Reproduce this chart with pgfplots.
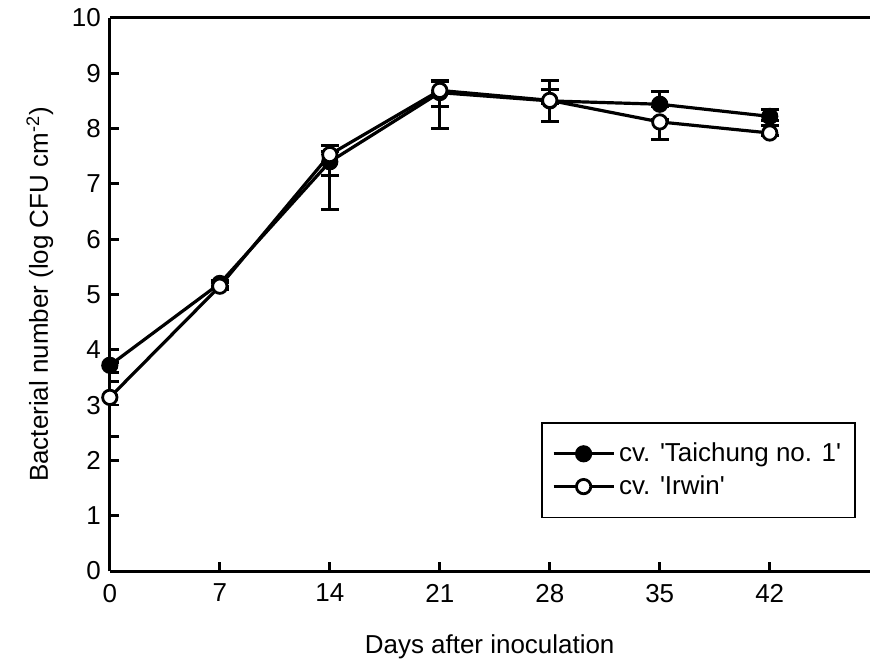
\documentclass[border=0pt]{standalone}
\usepackage{fontspec}
\setmainfont{Liberation Sans}[Ligatures=TeXOff]
\usepackage{pgfplots}
\pgfplotsset{compat=1.18}
\begin{document}
\begin{tikzpicture}
\begin{axis}[
  name=ax,
  scale only axis, width=380.5pt, height=277pt,
  xmin=0, xmax=48.35, ymin=0, ymax=10,
  axis x line*=box, axis y line*=left,
  axis line style={line width=1.5pt},
  xtick={0,7,14,21,28,35,42}, ytick={0,1,...,10},
  xtick pos=bottom, ytick pos=left,
  tick align=inside, major tick length=4.5pt,
  tick style={line width=1.4pt, black},
  font=\fontsize{13}{15.5}\selectfont,
  /pgf/number format/assume math mode=true,
  tick label style={font=\fontsize{13}{15.5}\selectfont},
  yticklabel style={xshift=-1pt},
  xticklabel style={yshift=-3pt},
  xlabel={Days after inoculation},
  ylabel={Bacterial number (log CFU cm\textsuperscript{-2})},
  x label style={at={(axis description cs:0.5,-0.137)}, anchor=center},
  y label style={at={(axis description cs:-0.092,0.5)}, anchor=center},
  legend style={at={(rel axis cs:0.982,0.269)}, anchor=north east,
    draw=black, line width=0.7pt, font=\fontsize{13}{15.5}\selectfont,
    inner xsep=5pt, inner ysep=8pt, row sep=1.5pt},
  legend cell align=left,
  legend image code/.code={\draw[mark repeat=2,mark phase=2,#1] plot coordinates {(0pt,0pt) (15pt,0pt) (30pt,0pt)};},
  error bars/error bar style={line width=1.5pt, black},
  error bars/error mark options={rotate=90, mark size=4.5pt, line width=1.5pt, black},
]
\addplot[black, line width=1.6pt, mark=*, mark size=3.6pt, mark options={fill=black, solid, line width=1.4pt},
  error bars/.cd, y dir=both, y explicit]
  coordinates {
  (0,3.72) += (0,0.05) -= (0,0.29)
  (7,5.20) += (0,0.06) -= (0,0.06)
  (14,7.40) += (0,0.30) -= (0,0.25)
  (21,8.65) += (0,0.20) -= (0,0.25)
  (28,8.50) += (0,0.21) -= (0,0.05)
  (35,8.44) += (0,0.23) -= (0,0.05)
  (42,8.22) += (0,0.13) -= (0,0.08)
  };
\addlegendentry{cv. 'Taichung no. 1'}
\addplot[black, line width=1.6pt, mark=*, mark size=3.6pt, mark options={fill=white, solid, line width=1.4pt},
  error bars/.cd, y dir=both, y explicit]
  coordinates {
  (0,3.14) += (0,0.45) -= (0,0.70)
  (7,5.15) += (0,0.06) -= (0,0.06)
  (14,7.53) += (0,0.05) -= (0,1.00)
  (21,8.69) += (0,0.18) -= (0,0.69)
  (28,8.51) += (0,0.36) -= (0,0.39)
  (35,8.12) += (0,0.05) -= (0,0.32)
  (42,7.92) += (0,0.13) -= (0,0.05)
  };
\addlegendentry{cv. 'Irwin'}
\end{axis}
\path (ax.south west) ++(-55pt,-45pt) rectangle ++(435.5pt,331pt);
\end{tikzpicture}
\end{document}
